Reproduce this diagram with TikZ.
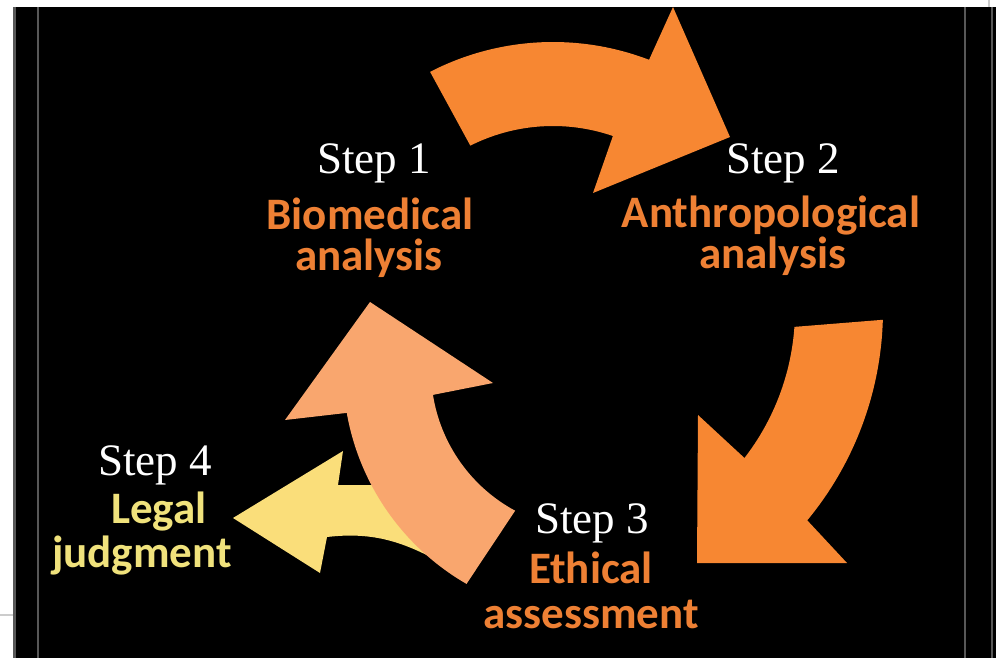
\documentclass[tikz,border=0pt]{standalone}
\usepackage{fontspec}
\setmainfont{Liberation Serif}
\newfontfamily\carl{Carlito}
\usetikzlibrary{calc}
\definecolor{orA}{RGB}{247,135,50}
\definecolor{salA}{RGB}{249,166,110}
\definecolor{yelA}{RGB}{250,222,122}
\definecolor{orT}{RGB}{238,128,52}
\definecolor{yelT}{RGB}{240,226,124}
\definecolor{strip}{RGB}{88,88,88}
\tikzset{
  steplabel/.style={anchor=base, inner sep=0pt, text=white, font=\fontsize{45}{45}\selectfont},
  bodylabel/.style={anchor=base, inner sep=0pt, font=\carl\bfseries\fontsize{45}{45}\selectfont},
  stripline/.style={draw=strip, line width=2.5pt}
}
\begin{document}
\begin{tikzpicture}[x=1pt,y=-1pt]
\useasboundingbox (0,0) rectangle (996,658);
\fill[white] (0,0) rectangle (996,658);
\fill[black] (13,7) rectangle (996,658);
% border strips
\draw[stripline] (14.5,7) -- (14.5,658);
\draw[stripline] (38,7) -- (38,658);
\draw[stripline] (965,7) -- (965,658);
\draw[stripline] (992,7) -- (992,658);
\draw[gray!40, line width=1.5pt] (0,615) -- (13,615);
\draw[gray!40, line width=1.5pt] (989,0) -- (989,7);

\coordinate (c1) at (553,310);
\coordinate (c3) at (590,370);

% arrow 1 (top)
\fill[orA] (c1) ++(-117.3:268) arc[start angle=-117.3, end angle=-69, radius=268]
  -- (673,7) -- (730,137) -- (593,193)
  -- ($(c1)+(-71:184)$) arc[start angle=-71, end angle=-116.7, radius=184] -- cycle;

% arrow 2 (right)
\fill[orA] (c1) ++(1.7:330) arc[start angle=1.7, end angle=39.6, radius=330]
  -- (847,563) -- (697,563) -- (698,415)
  -- ($(c1)+(37.7:242)$) arc[start angle=37.7, end angle=4, radius=242] -- cycle;

% arrow 4 (yellow, behind)
\fill[yelA] (233,518) -- (343,451) -- (338,485) -- (450,485) -- (460,540) -- (440,562)
  .. controls (400,540) and (370,532) .. (327,537) -- (320,573) -- cycle;

% arrow 3 (salmon)
\fill[salA] (c3) ++(120:247) arc[start angle=120, end angle=170, radius=247]
  -- (285,420) -- (370,302) -- (493,383)
  -- ($(c3)+(171:159)$) arc[start angle=171, end angle=118.3, radius=160] -- cycle;

% labels
\node[steplabel] (s1) at (374,173) {Step 1};
\node[bodylabel, text=orT] (b1a) at (370,229) {Biomedical};
\node[bodylabel, text=orT] (b1b) at (369,270) {analysis};

\node[steplabel] (s2) at (783,173) {Step 2};
\node[bodylabel, text=orT] (b2a) at (771,227) {Anthropological};
\node[bodylabel, text=orT] (b2b) at (773,268) {analysis};

\node[steplabel] (s3) at (592,533) {Step 3};
\node[bodylabel, text=orT] (b3a) at (591,583) {Ethical};
\node[bodylabel, text=orT] (b3b) at (591,628) {assessment};

\node[steplabel] (s4) at (155,475) {Step 4};
\node[bodylabel, text=yelT] (b4a) at (159,523) {Legal};
\node[bodylabel, text=yelT] (b4b) at (142,567) {judgment};
\end{tikzpicture}
\end{document}
